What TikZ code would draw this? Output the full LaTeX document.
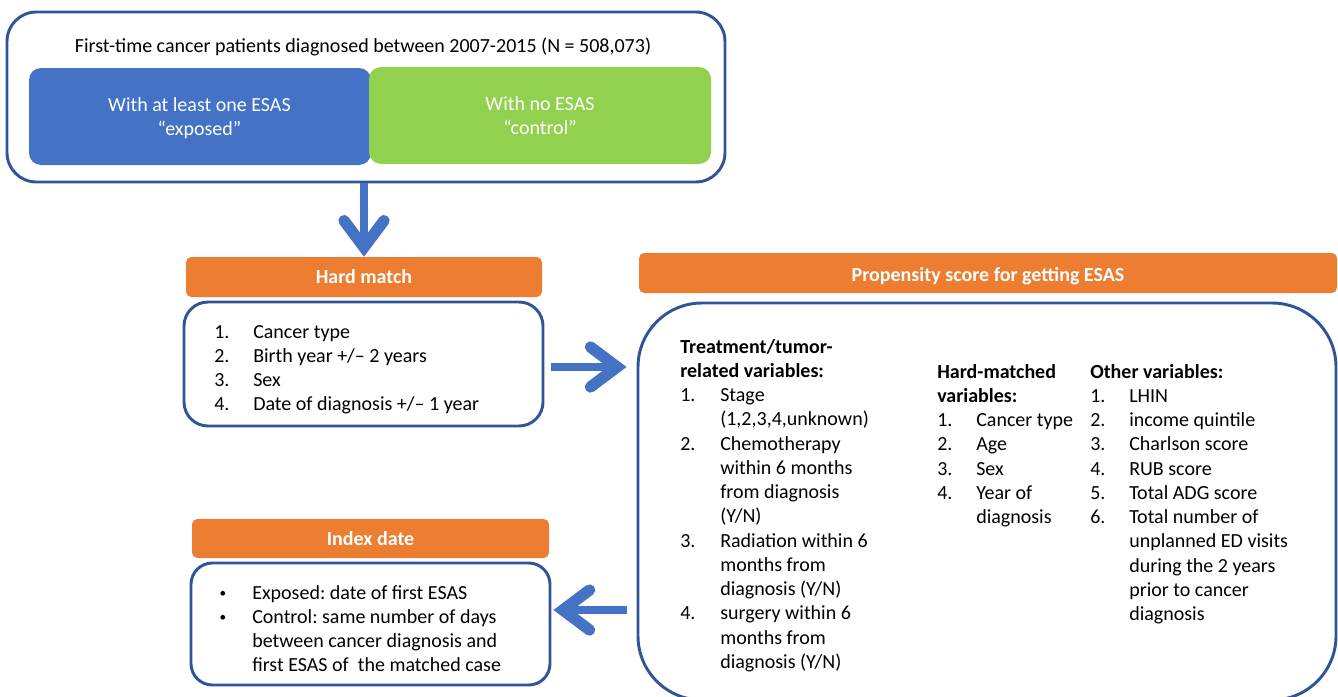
\documentclass[tikz,border=0pt]{standalone}
\usepackage{fontspec}
\setmainfont{Carlito}
\usetikzlibrary{arrows.meta,fit}
\definecolor{bord}{HTML}{2F5597}
\definecolor{ablue}{HTML}{4472C4}
\definecolor{agreen}{HTML}{92D050}
\definecolor{aorange}{HTML}{ED7D31}
\newcommand{\tf}{\fontsize{15}{18.2}\selectfont\frenchspacing}
\newcommand{\smbul}{\hspace{1pt}\raisebox{1.3pt}{\fontsize{10}{10}\selectfont •}}
\begin{document}
\begin{tikzpicture}[x=0.75pt,y=-0.75pt,
  frame/.style={draw=bord, line width=2.2pt, inner sep=0pt, fit={#1}},
  fillbox/.style={fill=#1, draw=none, inner sep=0pt, rounded corners=9pt},
  header/.style={fill=aorange, draw=none, inner sep=0pt, rounded corners=4pt},
  txt/.style={anchor=base west, inner sep=0pt, font=\tf},
  ctxt/.style={anchor=base, inner sep=0pt, font=\tf},
  htxt/.style={anchor=base, inner sep=0pt, font=\tf\bfseries, text=white},
  bigarrow/.style={draw=ablue, line width=6.5pt,
    -{Straight Barb[length=20pt, width=30pt, line width=8.5pt, line cap=round, line join=miter]}}
]
\clip (0,0) rectangle (1338,696);
\useasboundingbox (0,0) rectangle (1338,696);

% top box
\node[frame={(7,12) (725,182)}, rounded corners=22pt] (top) {};
\node[ctxt] (title) at (363,52) {First-time cancer patients diagnosed between 2007-2015 (N = 508,073)};
\node[fillbox=ablue, fit={(29,68) (371,165)}] (exp) {};
\node[fillbox=agreen, fit={(369,67) (711,164)}] (ctl) {};
\node[ctxt, text=white] (expt) at (199.5,111) {\begin{tabular}[t]{@{}c@{}}With at least one ESAS\\“exposed”\end{tabular}};
\node[ctxt, text=white] (ctlt) at (540,110) {\begin{tabular}[t]{@{}c@{}}With no ESAS\\“control”\end{tabular}};

% hard match
\node[header, fit={(186,257) (542,297)}] (hmh) {};
\node[htxt] (hmht) at (364,283) {Hard match};
\node[frame={(184,302) (543,426)}, rounded corners=18pt] (hm) {};
\node[txt] (hmt) at (214,338) {\begin{tabular}[t]{@{}p{29.25pt}@{}l@{}}
1. & Cancer type\\
2. & Birth year +/– 2 years\\
3. & Sex\\
4. & Date of diagnosis +/– 1 year
\end{tabular}};

% index date
\node[header, fit={(192,519) (549,558)}] (ixh) {};
\node[htxt] (ixht) at (370.5,545) {Index date};
\node[frame={(191,563) (550,685)}, rounded corners=16pt] (ix) {};
\node[txt] (ixt) at (218,599) {\begin{tabular}[t]{@{}p{25.5pt}@{}l@{}}
\smbul & Exposed: date of first ESAS\\
\smbul & Control: same number of days\\
 & between cancer diagnosis and\\
 & first ESAS of~ the matched case
\end{tabular}};

% propensity
\node[header, fit={(639,253) (1337,293)}] (psh) {};
\node[htxt] (psht) at (988,281) {Propensity score for getting ESAS};
\node[frame={(638,303) (1336,700)}, rounded corners=48pt] (ps) {};
\node[txt] (c1) at (680,353) {\begin{tabular}[t]{@{}p{30pt}@{}l@{}}
\multicolumn{2}{@{}l@{}}{\bfseries Treatment/tumor-}\\
\multicolumn{2}{@{}l@{}}{\bfseries related variables:}\\
1. & Stage\\
 & (1,2,3,4,unknown)\\
2. & Chemotherapy\\
 & within 6 months\\
 & from diagnosis\\
 & (Y/N)\\
3. & Radiation within 6\\
 & months from\\
 & diagnosis (Y/N)\\
4. & surgery within 6\\
 & months from\\
 & diagnosis (Y/N)
\end{tabular}};
\node[txt] (c2) at (937,378) {\begin{tabular}[t]{@{}p{29.25pt}@{}l@{}}
\multicolumn{2}{@{}l@{}}{\bfseries Hard-matched}\\
\multicolumn{2}{@{}l@{}}{\bfseries variables:}\\
1. & Cancer type\\
2. & Age\\
3. & Sex\\
4. & Year of\\
 & diagnosis
\end{tabular}};
\node[txt] (c3) at (1090,378) {\begin{tabular}[t]{@{}p{29.25pt}@{}l@{}}
\multicolumn{2}{@{}l@{}}{\bfseries Other variables:}\\
1. & LHIN\\
2. & income quintile\\
3. & Charlson score\\
4. & RUB score\\
5. & Total ADG score\\
6. & Total number of\\
 & unplanned ED visits\\
 & during the 2 years\\
 & prior to cancer\\
 & diagnosis
\end{tabular}};

% arrows
\draw[bigarrow] (hmh.north |- top.south) -- (hmh.north);
\draw[bigarrow, shorten <=5pt, shorten >=7.5pt] ([yshift=-2.25pt]hm.east) -- ([yshift=-2.25pt]hm.east -| ps.west);
\draw[bigarrow, shorten <=7.5pt, shorten >=1.5pt] ([yshift=10.5pt]ix.east -| ps.west) -- ([yshift=10.5pt]ix.east);
\end{tikzpicture}
\end{document}
